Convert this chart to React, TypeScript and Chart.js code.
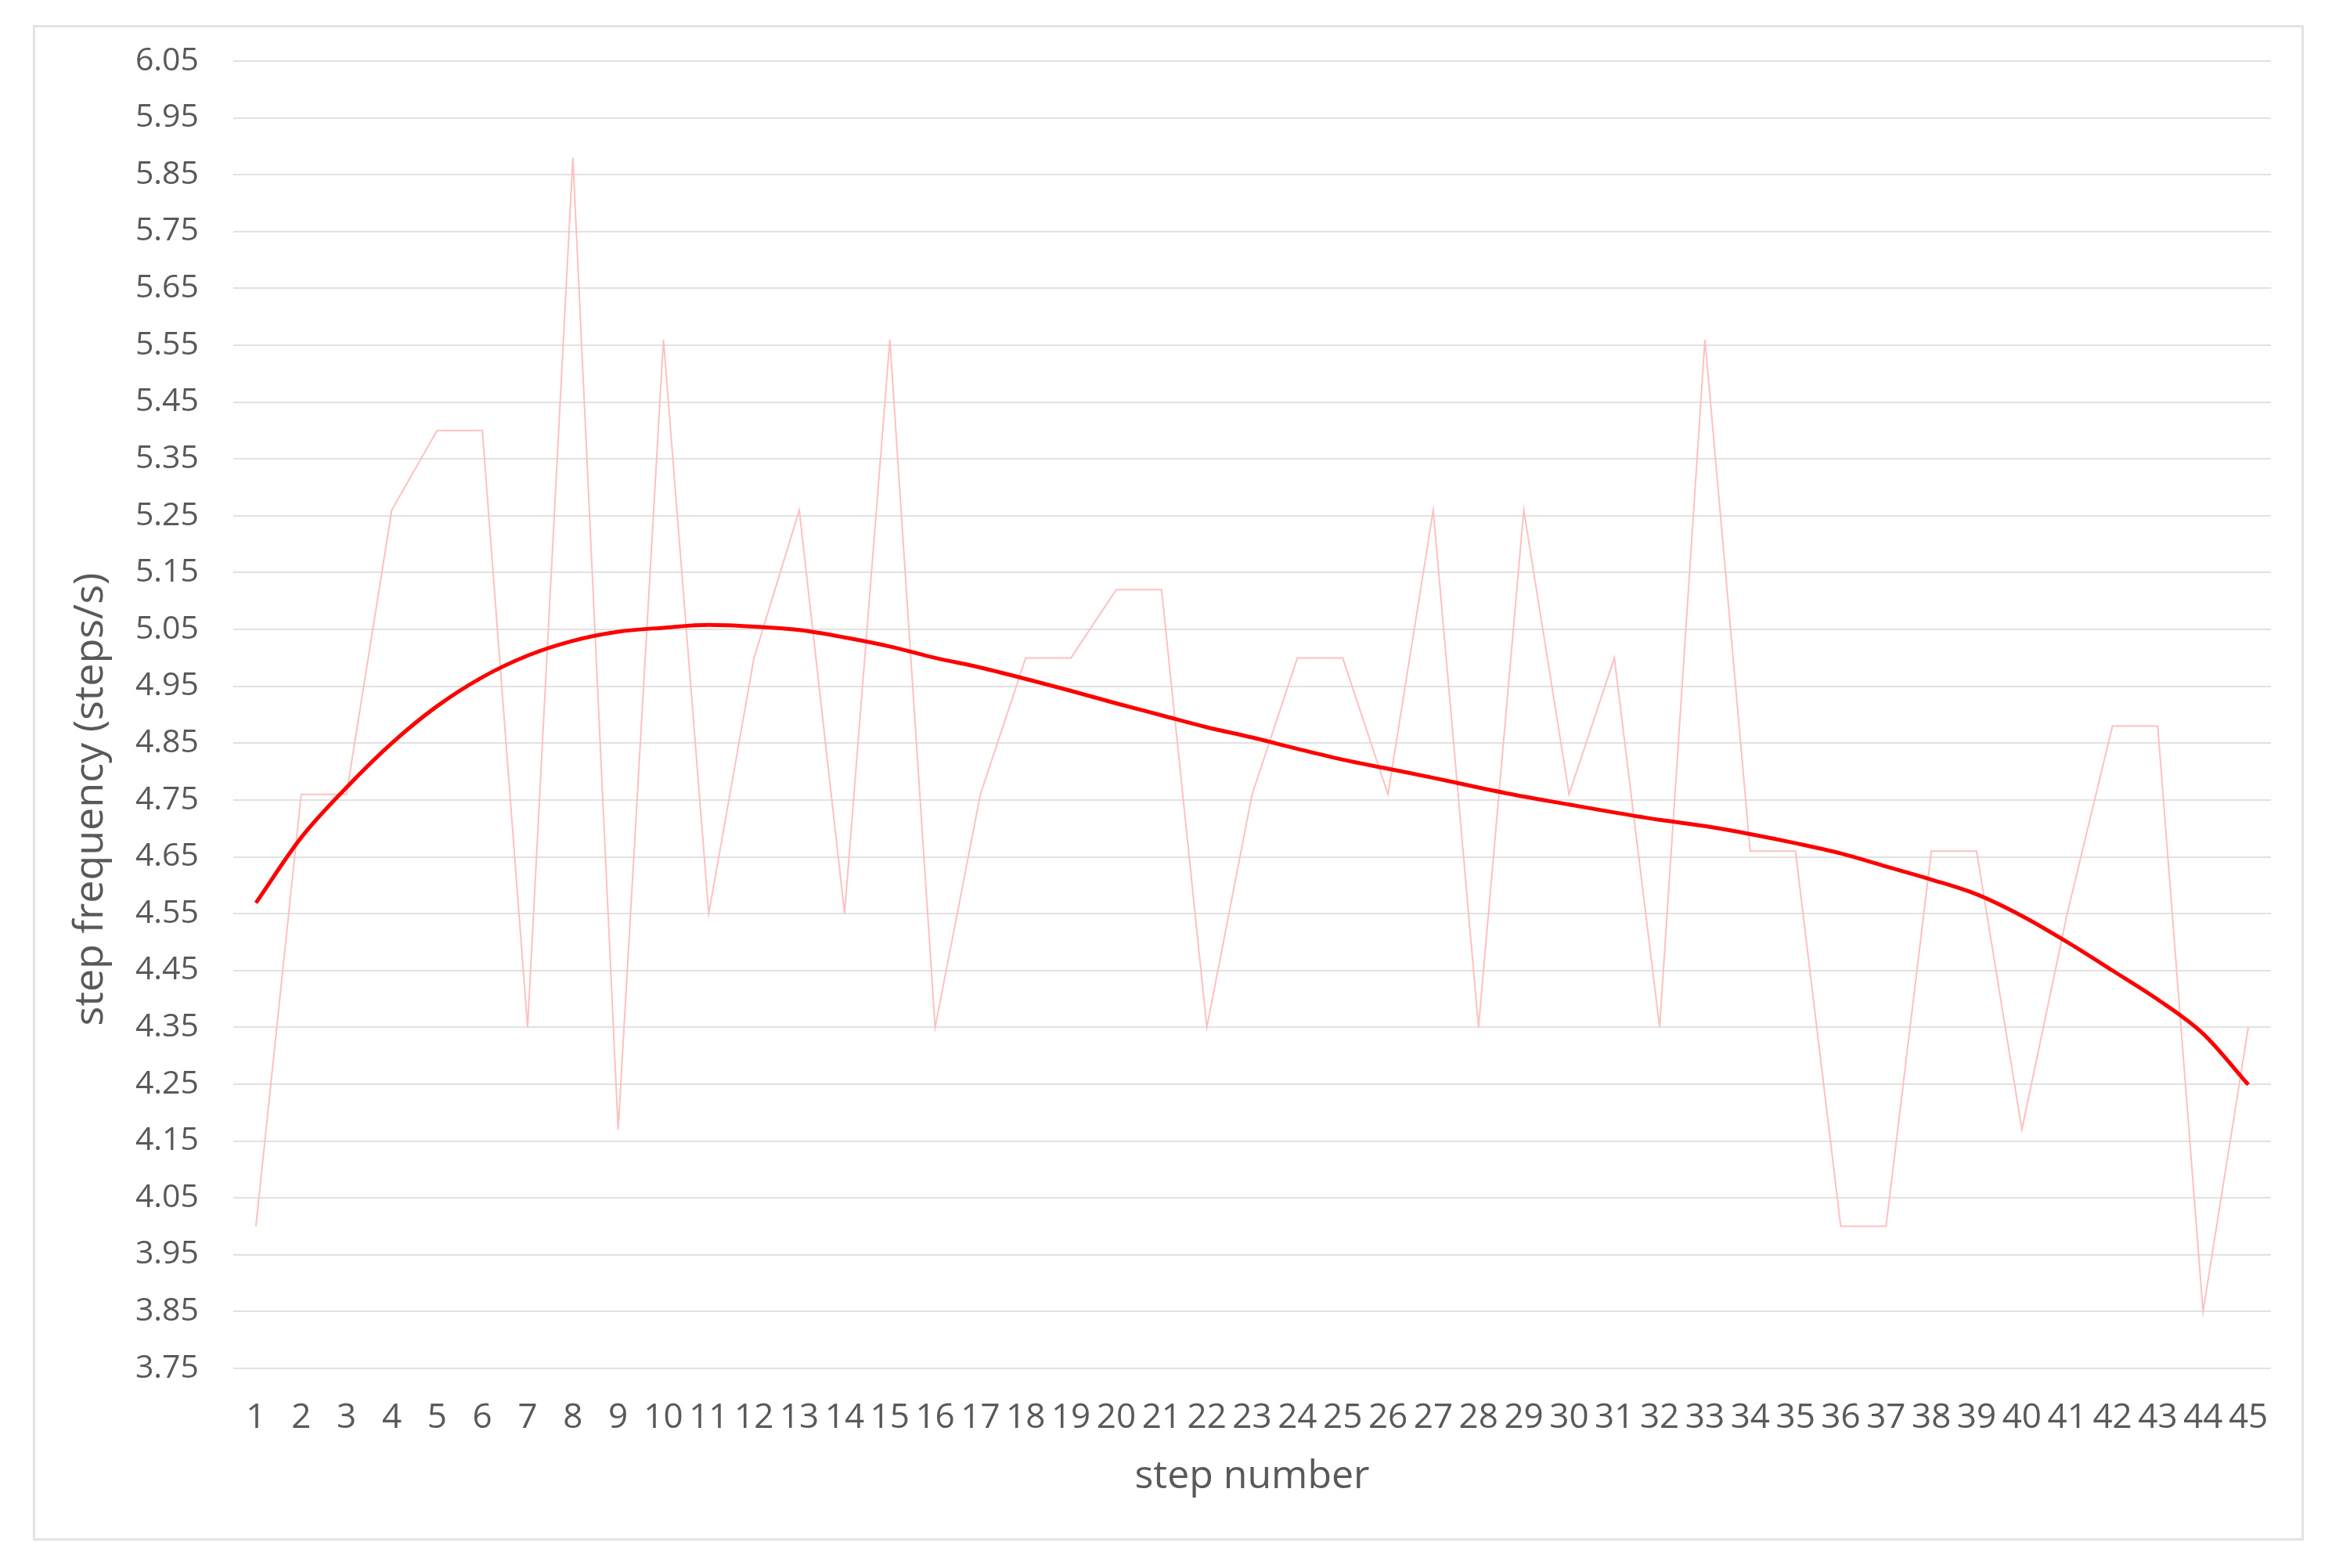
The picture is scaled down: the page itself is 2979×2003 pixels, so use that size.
import React, { useEffect, useRef } from 'react';
import { Chart, registerables } from 'chart.js';

Chart.register(...registerables);

const stepLabels = [
  '1', '2', '3', '4', '5', '6', '7', '8', '9', '10',
  '11', '12', '13', '14', '15', '16', '17', '18', '19', '20',
  '21', '22', '23', '24', '25', '26', '27', '28', '29', '30',
  '31', '32', '33', '34', '35', '36', '37', '38', '39', '40',
  '41', '42', '43', '44', '45',
];

const stepFrequency = [
  4.00, 4.76, 4.76, 5.26, 5.40, 5.40, 4.35, 5.88, 4.17, 5.56,
  4.55, 5.00, 5.26, 4.55, 5.56, 4.35, 4.76, 5.00, 5.00, 5.12,
  5.12, 4.35, 4.76, 5.00, 5.00, 4.76, 5.26, 4.35, 5.26, 4.76,
  5.00, 4.35, 5.56, 4.66, 4.66, 4.00, 4.00, 4.66, 4.66, 4.17,
  4.55, 4.88, 4.88, 3.85, 4.35,
];

const trendValues = [
  4.569, 4.684, 4.772, 4.850, 4.915, 4.966, 5.004, 5.030, 5.046, 5.053,
  5.058, 5.055, 5.049, 5.036, 5.020, 5.000, 4.983, 4.963, 4.942, 4.920,
  4.899, 4.878, 4.860, 4.840, 4.821, 4.805, 4.789, 4.772, 4.756, 4.742,
  4.728, 4.715, 4.704, 4.690, 4.674, 4.656, 4.633, 4.610, 4.584, 4.546,
  4.500, 4.450, 4.399, 4.339, 4.249,
];

const yMin = 3.75;
const yMax = 6.05;
const yStep = 0.1;

const xTitle = 'step number';
const yTitle = 'step frequency (steps/s)';

const CANVAS_W = 2895;
const CANVAS_H = 1930;

export default function App() {
  const canvasRef = useRef<HTMLCanvasElement | null>(null);

  useEffect(() => {
    const canvas = canvasRef.current;
    if (!canvas) return;
    const textColor = '#595959';
    const family = "'Open Sans', 'Noto Sans', sans-serif";
    const chart = new Chart(canvas, {
      type: 'line',
      data: {
        labels: stepLabels,
        datasets: [
          {
            label: 'trend',
            data: trendValues,
            borderColor: '#ff0000',
            borderWidth: 5,
            pointRadius: 0,
            cubicInterpolationMode: 'monotone',
            fill: false,
          },
          {
            label: 'step frequency',
            data: stepFrequency,
            borderColor: '#ffc0c0',
            borderWidth: 2,
            pointRadius: 0,
            tension: 0,
            fill: false,
          },
        ],
      },
      options: {
        animation: false,
        responsive: false,
        devicePixelRatio: 1,
        layout: { padding: { left: 0, right: 39, top: 43, bottom: 0 } },
        plugins: {
          legend: { display: false },
          tooltip: { enabled: false },
        },
        scales: {
          x: {
            type: 'category',
            offset: true,
            grid: { display: false, drawTicks: false },
            border: { display: false },
            ticks: {
              color: textColor,
              font: { family, size: 44 },
              padding: 37,
              autoSkip: false,
              maxRotation: 0,
              minRotation: 0,
            },
            title: {
              display: true,
              text: xTitle,
              color: textColor,
              font: { family, size: 50 },
              padding: { top: 0, bottom: 48 },
            },
            afterFit: (scale: any) => {
              scale.height = 217;
              scale.paddingLeft = 0;
              scale.paddingRight = 0;
            },
          },
          y: {
            type: 'linear',
            min: yMin,
            max: yMax,
            grid: { color: '#e2e2e2', lineWidth: 2, drawTicks: false },
            border: { display: false },
            ticks: {
              stepSize: yStep,
              maxTicksLimit: 40,
              autoSkip: false,
              color: textColor,
              font: { family, size: 41 },
              padding: 44,
              callback: (v: any) => Number(v).toFixed(2),
            },
            title: {
              display: true,
              text: yTitle + '                ',
              color: textColor,
              font: { family, size: 52 },
              padding: { top: 40, bottom: 0 },
            },
            afterFit: (scale: any) => {
              scale.width = 253;
              scale.paddingTop = 0;
              scale.paddingBottom = 0;
            },
          },
        },
      },
    });
    return () => chart.destroy();
  }, []);

  return (
    <div
      style={{
        position: 'fixed',
        left: 0,
        top: 0,
        width: 2979,
        height: 2003,
        background: '#ffffff',
      }}
    >
      <div
        style={{
          position: 'absolute',
          left: 42,
          top: 32,
          width: 2901,
          height: 1936,
          border: '3px solid #e3e3e3',
          boxSizing: 'border-box',
          background: '#ffffff',
        }}
      >
        <canvas
          ref={canvasRef}
          width={CANVAS_W}
          height={CANVAS_H}
          style={{ position: 'absolute', left: 0, top: 0, width: CANVAS_W, height: CANVAS_H }}
        />
      </div>
    </div>
  );
}
